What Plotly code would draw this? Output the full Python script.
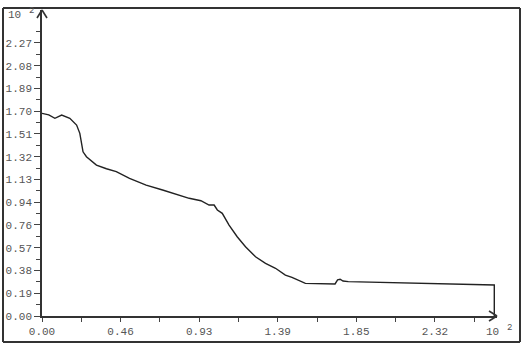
import plotly.graph_objects as go

# ---- data ----
x_vals = [0.000, 0.040, 0.076, 0.116, 0.164, 0.204, 0.223, 0.242, 0.262, 0.321,
          0.380, 0.438, 0.516, 0.614, 0.711, 0.809, 0.868, 0.937, 0.985, 1.015,
          1.034, 1.063, 1.103, 1.151, 1.200, 1.259, 1.318, 1.377, 1.435, 1.474,
          1.553, 1.728, 1.743, 1.758, 1.775, 1.806, 2.200, 2.667, 2.667]
y_vals = [1.682, 1.670, 1.641, 1.668, 1.641, 1.585, 1.516, 1.363, 1.322, 1.253,
          1.222, 1.198, 1.143, 1.087, 1.046, 1.004, 0.977, 0.957, 0.921, 0.921,
          0.880, 0.852, 0.755, 0.658, 0.575, 0.492, 0.437, 0.396, 0.340, 0.321,
          0.271, 0.266, 0.300, 0.305, 0.290, 0.285, 0.270, 0.257, 0.000]

x_tick_vals = [0.0, 0.2317, 0.4633, 0.6950, 0.9267, 1.1583, 1.3900, 1.6217,
               1.8533, 2.0850, 2.3167, 2.5483]
x_tick_text = ["0.00", "", "0.46", "", "0.93", "", "1.39", "", "1.85", "", "2.32", ""]

y_tick_vals = [0.0, 0.1889, 0.3778, 0.5667, 0.7556, 0.9444, 1.1333, 1.3222,
               1.5111, 1.7000, 1.8889, 2.0778, 2.2667]
y_tick_text = ["0.00", "0.19", "0.38", "0.57", "0.76", "0.94", "1.13", "1.32",
               "1.51", "1.70", "1.89", "2.08", "2.27"]

exp_base = "10"
exp_power = "2"

W, H = 523, 351
L, R, T, B = 42, 26, 10, 35
pw, ph = W - L - R, H - T - B
X_MAX = 2.683

def px(xp):
    return (xp - L) / pw

def py(yp):
    return (H - B - yp) / ph

font = dict(family="Liberation Mono", size=11, color="#555555")

fig = go.Figure()
fig.add_trace(go.Scatter(x=x_vals, y=y_vals, mode="lines",
                         line=dict(color="#222222", width=1.4),
                         showlegend=False, hoverinfo="skip"))

fig.update_layout(
    width=W, height=H,
    margin=dict(l=L, r=R, t=T, b=B, autoexpand=False),
    paper_bgcolor="white", plot_bgcolor="white",
    font=font,
    xaxis=dict(range=[0, X_MAX], tickvals=x_tick_vals, ticktext=x_tick_text,
               ticks="outside", ticklen=4, tickcolor="#444", tickwidth=1,
               showline=True, linecolor="#333", linewidth=1.6, automargin=False,
               showgrid=False, zeroline=False, tickfont=font),
    yaxis=dict(range=[0, 2.54], tickvals=y_tick_vals, ticktext=y_tick_text,
               ticks="outside", ticklen=6, tickcolor="#444", tickwidth=1,
               minor=dict(tick0=0.0944, dtick=0.18889, ticklen=4, tickcolor="#444",
                          ticks="outside", showgrid=False),
               showline=True, linecolor="#333", linewidth=1.6, automargin=False,
               showgrid=False, zeroline=False, tickfont=font),
)

shapes = []
# outer frame (four separate lines)
fx0, fx1, fy0, fy1 = px(3), px(520), py(342), py(8)
for (a, b, c, d) in ((fx0, fy1, fx1, fy1), (fx0, fy0, fx1, fy0),
                     (fx0, fy0, fx0, fy1), (fx1, fy0, fx1, fy1)):
    shapes.append(dict(type="line", xref="paper", yref="paper",
                       x0=a, y0=b, x1=c, y1=d, layer="above",
                       line=dict(color="#333333", width=2)))
# y-axis arrow head
for dx in (-5, 5):
    shapes.append(dict(type="line", xref="paper", yref="paper",
                       x0=px(L), y0=py(10), x1=px(L + dx), y1=py(18),
                       line=dict(color="#333", width=1.6)))
# x-axis arrow head
for dy in (-5, 5):
    shapes.append(dict(type="line", xref="paper", yref="paper",
                       x0=px(W - R), y0=py(H - B), x1=px(W - R - 8), y1=py(H - B + dy),
                       line=dict(color="#333", width=1.6)))
fig.update_layout(shapes=shapes)

for bx, by in ((6, 15), (484, 332)):
    fig.add_annotation(text=exp_base, xref="paper", yref="paper",
                       x=px(bx), y=py(by), xanchor="left", yanchor="middle",
                       showarrow=False, font=font)
    fig.add_annotation(text=exp_power, xref="paper", yref="paper",
                       x=px(bx + 21), y=py(by - 4), xanchor="left", yanchor="middle",
                       showarrow=False, font=dict(family="Liberation Mono", size=9,
                                                  color="#555555"))

fig.write_html("out.html", config={"displayModeBar": False},
               post_script="document.body.style.margin='0';")
